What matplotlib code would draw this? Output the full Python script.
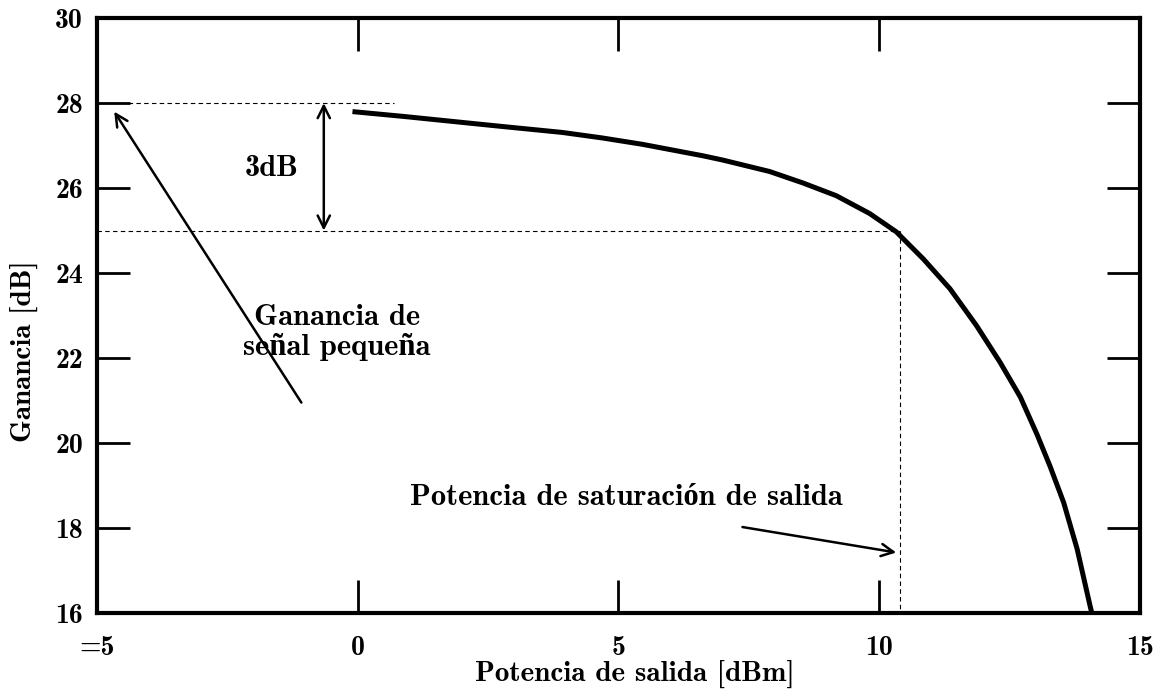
import matplotlib

matplotlib.use('Agg')
import matplotlib.pyplot as plt

# curva de ganancia
potencia = [-0.1, 0.85, 2.77, 3.92, 4.69, 5.46, 6.62, 7.0, 7.90, 8.54, 9.18,
            9.82, 10.33, 10.85, 11.36, 11.87, 12.32, 12.71, 13.03, 13.28, 13.54,
            13.8, 14.05, 14.08]
ganancia = [27.8, 27.69, 27.45, 27.31, 27.18, 27.03, 26.76, 26.66, 26.39, 26.12, 25.82,
            25.40, 24.97, 24.33, 23.63, 22.76, 21.9, 21.08, 20.2, 19.45, 18.6,
            17.5, 16.15, 16.0]

x_ticks = [-5, 0, 5, 10, 15]
x_labels = ['=5', '0', '5', '10', '15']
y_ticks = [16, 18, 20, 22, 24, 26, 28, 30]

g_max = 28
g_3db = 25
p_sat = 10.4

plt.rcParams['font.family'] = ['cmb10', 'Liberation Serif']
plt.rcParams['font.weight'] = 'bold'

fig = plt.figure(figsize=(11.63, 6.98), dpi=100)
ax = fig.add_axes([0.0834, 0.122, 0.8966, 0.852])

ax.plot(potencia, ganancia, color='black', linewidth=3.6, solid_capstyle='butt',
        solid_joinstyle='round')

# lineas de referencia
ax.plot([-5, 0.7], [g_max, g_max], color='black', linestyle='--', linewidth=0.8, dashes=(4, 3))
ax.plot([-5, p_sat], [g_3db, g_3db], color='black', linestyle='--', linewidth=0.8, dashes=(4, 3))
ax.plot([p_sat, p_sat], [g_3db, 16], color='black', linestyle='--', linewidth=0.8, dashes=(4, 3))

# 3dB
ax.annotate('', xy=(-0.65, g_max), xytext=(-0.65, g_3db),
            arrowprops=dict(arrowstyle='<->', color='black', lw=1.8, mutation_scale=22,
                            shrinkA=0, shrinkB=0))
ax.text(-1.65, 26.45, '3dB', fontsize=22, ha='center', va='center')

ax.annotate('', xy=(-4.67, 27.8), xytext=(-1.08, 20.95),
            arrowprops=dict(arrowstyle='->', color='black', lw=1.8, mutation_scale=22,
                            shrinkA=0, shrinkB=0))
ax.text(-0.4, 22.6, 'Ganancia de\nseñal pequeña', fontsize=22, ha='center', va='center',
        linespacing=1.05)

ax.annotate('', xy=(10.33, 17.42), xytext=(7.38, 18.02),
            arrowprops=dict(arrowstyle='->', color='black', lw=1.8, mutation_scale=22,
                            shrinkA=0, shrinkB=0))
ax.text(5.15, 18.72, 'Potencia de saturación de salida', fontsize=22, ha='center', va='center')

ax.set_xlim(-5, 15)
ax.set_ylim(16, 30)
ax.set_xticks(x_ticks)
ax.set_xticklabels(x_labels)
ax.set_yticks(y_ticks)

ax.tick_params(direction='in', length=24, width=2, top=True, right=True, labelsize=20)
ax.tick_params(axis='x', pad=16)
ax.tick_params(axis='y', pad=10)
for s in ax.spines.values():
    s.set_linewidth(3)

ax.set_xlabel('Potencia de salida [dBm]', fontsize=21)
ax.set_ylabel('Ganancia [dB]', fontsize=21)
ax.xaxis.set_label_coords(0.516, -0.079)
ax.yaxis.set_label_coords(-0.057, 0.44)

fig.savefig('out.png', dpi=100)
